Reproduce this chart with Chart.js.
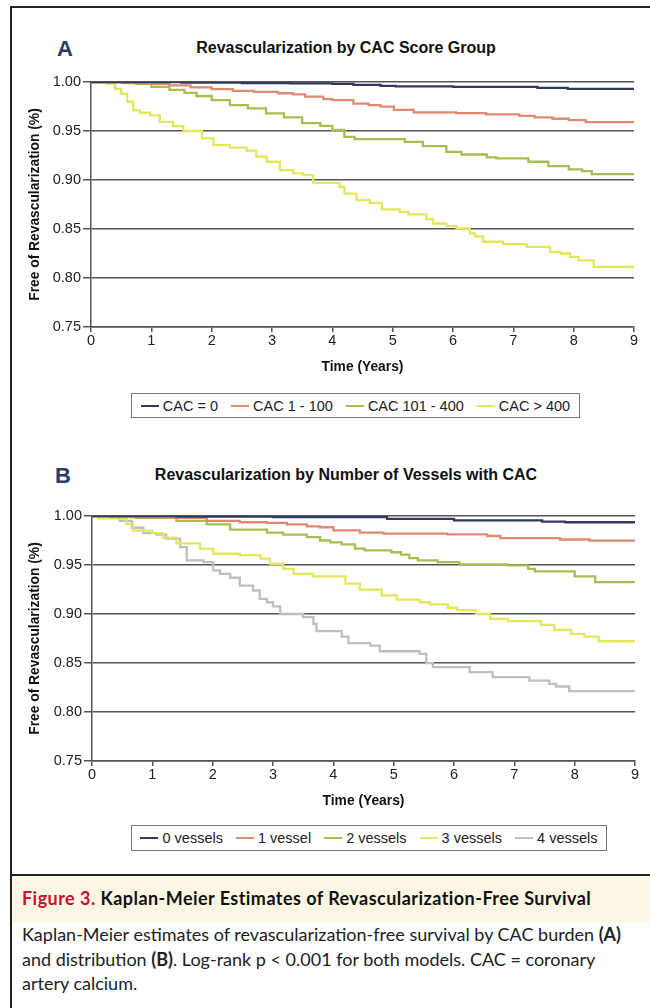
<!DOCTYPE html>
<html><head><meta charset="utf-8">
<script src="https://cdn.jsdelivr.net/npm/chart.js@4.4.1/dist/chart.umd.min.js"></script>
<style>
body{margin:0;width:650px;height:1008px;position:relative;overflow:hidden;background:#fff;font-family:'Liberation Sans',Arial,sans-serif;}
.abs{position:absolute;}
.letter{font-weight:bold;font-size:22px;line-height:1;color:#2f3b5e;}
.title{font-weight:bold;font-size:16px;line-height:1;color:#111;width:600px;left:46px;text-align:center;white-space:nowrap;}
.legend{border:1px solid #777;box-sizing:border-box;display:flex;align-items:center;justify-content:center;gap:13px;font-size:14.5px;color:#222;}
.item{display:flex;align-items:center;white-space:nowrap;}
.sw{width:18px;height:2px;margin-right:4px;display:inline-block;}
.cap{font-family:Lato,'Open Sans',sans-serif;white-space:nowrap;}
</style></head>
<body>
<div class="abs" style="left:10px;top:6px;width:640px;height:2px;background:#222"></div>
<div class="abs" style="left:10px;top:6px;width:2px;height:1002px;background:#222"></div>

<div class="abs letter" style="left:57px;top:38px">A</div>
<div class="abs title" style="top:40px">Revascularization by CAC Score Group</div>
<div class="abs" style="left:0;top:60px;width:650px;height:315px"><canvas id="cA" width="650" height="315"></canvas></div>
<div class="abs legend" id="legA" style="left:131px;top:393px;width:449px;height:25px"></div>

<div class="abs letter" style="left:55px;top:465px">B</div>
<div class="abs title" style="top:467px">Revascularization by Number of Vessels with CAC</div>
<div class="abs" style="left:0;top:494px;width:650px;height:315px"><canvas id="cB" width="650" height="315"></canvas></div>
<div class="abs legend" id="legB" style="left:131px;top:825px;width:476px;height:26px"></div>

<div class="abs" style="left:10px;top:874px;width:640px;height:2px;background:#222"></div>
<div class="abs" style="left:12px;top:876px;width:638px;height:46px;background:#fcf7e4"></div>
<div class="abs cap" style="left:22px;top:888px;font-size:18px;line-height:20px;letter-spacing:0.45px;font-weight:bold;color:#111"><span style="color:#c8102e">Figure 3.</span> Kaplan-Meier Estimates of Revascularization-Free Survival</div>
<div class="abs cap" style="left:22px;top:922px;font-size:18px;line-height:24.5px;color:#222">Kaplan-Meier estimates of revascularization-free survival by CAC burden <b>(A)</b><br>and distribution <b>(B)</b>. Log-rank p &lt; 0.001 for both models. CAC = coronary<br>artery calcium.</div>

<script>
// ---- Panel A: CAC score groups  [time (years), survival]
const namesA = ['CAC = 0', 'CAC 1 - 100', 'CAC 101 - 400', 'CAC > 400'];
const cac0 = [[0,1],[1.5,0.9995],[2.5,0.999],[3.3,0.9985],[4.0,0.998],[4.35,0.997],[4.8,0.996],[5.05,0.9955],[6.0,0.995],[7.4,0.994],[7.9,0.993],[9,0.993]];
const cac1to100 = [[0,1],[0.5,0.9995],[0.75,0.999],[1.0,0.998],[1.3,0.9965],[1.65,0.9945],[2.0,0.9928],[2.35,0.991],[2.7,0.990],[3.1,0.9885],[3.35,0.9874],[3.55,0.985],[3.85,0.9825],[4.0,0.9815],[4.35,0.978],[4.6,0.9765],[4.8,0.9748],[5.02,0.9715],[5.35,0.969],[6.05,0.9682],[6.55,0.967],[7.1,0.9655],[7.35,0.964],[7.65,0.9625],[7.92,0.961],[8.2,0.959],[9,0.959]];
const cac101to400 = [[0,1],[0.55,0.999],[0.75,0.998],[1.0,0.995],[1.3,0.992],[1.55,0.989],[1.75,0.9857],[2.0,0.9816],[2.3,0.9765],[2.6,0.973],[2.9,0.968],[3.2,0.964],[3.5,0.958],[3.8,0.9553],[4.0,0.951],[4.2,0.944],[4.37,0.9417],[5.2,0.939],[5.5,0.9346],[5.89,0.9288],[6.14,0.926],[6.56,0.923],[6.72,0.922],[7.25,0.9186],[7.58,0.9142],[7.92,0.9108],[8.14,0.909],[8.3,0.906],[9,0.906]];
const cacOver400 = [[0,1],[0.26,0.998],[0.4,0.993],[0.5,0.988],[0.6,0.98],[0.7,0.971],[0.81,0.9686],[0.98,0.966],[1.14,0.9594],[1.36,0.955],[1.53,0.950],[1.84,0.9425],[2.03,0.9356],[2.3,0.933],[2.58,0.930],[2.74,0.9237],[2.91,0.9186],[3.13,0.910],[3.35,0.9067],[3.52,0.905],[3.68,0.897],[4.12,0.893],[4.2,0.886],[4.4,0.8795],[4.62,0.8767],[4.82,0.870],[5.12,0.8675],[5.26,0.865],[5.56,0.860],[5.67,0.8556],[5.89,0.853],[6.06,0.8505],[6.28,0.8454],[6.36,0.8426],[6.5,0.837],[6.83,0.8345],[7.22,0.8317],[7.61,0.8266],[7.78,0.825],[7.94,0.8215],[8.08,0.818],[8.33,0.8113],[9,0.8113]];

// ---- Panel B: number of vessels with CAC
const namesB = ['0 vessels', '1 vessel', '2 vessels', '3 vessels', '4 vessels'];
const ves0 = [[0,1],[1.4,0.9995],[3.0,0.999],[4.89,0.997],[6.0,0.9956],[7.46,0.9943],[7.84,0.9936],[9,0.9936]];
const ves1 = [[0,1],[0.73,0.999],[1.3,0.998],[1.9,0.995],[2.45,0.9936],[2.9,0.993],[3.23,0.9915],[3.56,0.9895],[3.78,0.9885],[4.0,0.9854],[4.44,0.983],[4.83,0.982],[5.89,0.9813],[6.55,0.9796],[6.77,0.9775],[7.76,0.976],[8.25,0.9748],[9,0.9748]];
const ves2 = [[0,1],[0.3,0.999],[0.73,0.998],[1.4,0.995],[1.9,0.9915],[2.29,0.986],[2.9,0.983],[3.17,0.981],[3.56,0.9785],[3.78,0.975],[3.95,0.973],[4.14,0.971],[4.36,0.9667],[4.52,0.965],[4.96,0.963],[5.12,0.9605],[5.26,0.957],[5.4,0.9547],[5.73,0.953],[6.09,0.9506],[6.9,0.9496],[7.23,0.946],[7.34,0.9435],[8.0,0.9384],[8.34,0.9326],[9,0.9326]];
const ves3 = [[0,1],[0.1,0.9975],[0.57,0.992],[0.68,0.985],[1.0,0.9826],[1.18,0.978],[1.4,0.972],[1.79,0.9667],[2.01,0.9615],[2.45,0.960],[2.79,0.9565],[2.95,0.9513],[3.17,0.946],[3.34,0.941],[3.67,0.9384],[4.2,0.931],[4.44,0.9248],[4.8,0.919],[5.05,0.9146],[5.43,0.912],[5.6,0.9098],[5.9,0.9064],[6.05,0.904],[6.36,0.900],[6.6,0.8951],[6.89,0.8927],[7.44,0.889],[7.66,0.8839],[7.94,0.8798],[8.16,0.877],[8.4,0.8722],[9,0.8722]];
const ves4 = [[0,1],[0.46,0.995],[0.66,0.988],[0.85,0.9826],[1.07,0.981],[1.23,0.977],[1.46,0.9683],[1.57,0.9547],[1.85,0.953],[2.01,0.9445],[2.12,0.941],[2.29,0.937],[2.45,0.929],[2.67,0.924],[2.78,0.9155],[2.9,0.912],[3.0,0.9077],[3.12,0.900],[3.5,0.8968],[3.67,0.890],[3.72,0.8825],[4.14,0.877],[4.25,0.8702],[4.61,0.8678],[4.77,0.862],[5.43,0.8594],[5.54,0.8498],[5.65,0.8457],[6.26,0.8406],[6.64,0.8355],[7.25,0.832],[7.58,0.8287],[7.69,0.826],[7.91,0.8212],[9,0.8212]];

// ---- axis ticks
const yTicks = [0.75, 0.80, 0.85, 0.90, 0.95, 1.00];
const xTicks = [0,1,2,3,4,5,6,7,8,9];

const colors = ['#2e3a5f', '#e08a72', '#a6bf52', '#e4e65e', '#bfbfc3'];
const F = "'Liberation Sans', Arial, sans-serif";

function makeChart(id, names, series, yWidth, padRight){
  const ds = series.map((s,i)=>({
    label:names[i], data:s.map(p=>({x:p[0],y:p[1]})),
    borderColor:colors[i], backgroundColor:colors[i], borderWidth:2.3,
    pointRadius:0, stepped:true, fill:false, tension:0
  }));
  return new Chart(document.getElementById(id), {
    type:'line',
    data:{datasets:ds},
    options:{
      responsive:false, animation:false, devicePixelRatio:1,
      layout:{padding:{left:0,top:22,right:padRight,bottom:0}},
      plugins:{legend:{display:false}, tooltip:{enabled:false}},
      scales:{
        x:{type:'linear', min:xTicks[0], max:xTicks[xTicks.length-1],
           afterBuildTicks:s=>{s.ticks = xTicks.map(v=>({value:v}));},
           ticks:{padding:0, color:'#222', font:{family:F,size:14.5}, maxRotation:0, autoSkip:false},
           grid:{drawOnChartArea:false, drawTicks:true, tickLength:5, color:'#555', lineWidth:1.5},
           border:{display:true, color:'#555', width:1.5},
           title:{display:true, text:'Time (Years)', font:{family:F,size:13.8,weight:'bold'}, color:'#111', padding:{top:0,bottom:0}},
           afterFit:s=>{s.height=48;}},
        y:{type:'linear', min:yTicks[0], max:yTicks[yTicks.length-1],
           afterBuildTicks:s=>{s.ticks = yTicks.map(v=>({value:v}));},
           ticks:{callback:v=>Number(v).toFixed(2), padding:2, color:'#222', font:{family:F,size:14.5}, autoSkip:false},
           grid:{color:'#555', lineWidth:1.5, tickLength:8},
           border:{display:true, color:'#555', width:1.5},
           title:{display:true, text:'Free of Revascularization (%)', font:{family:F,size:13.8,weight:'bold'}, color:'#111', padding:{top:27,bottom:0}},
           afterFit:s=>{s.width=yWidth;}}
      }
    }
  });
}

function makeLegend(id, names){
  const el = document.getElementById(id);
  names.forEach((n,i)=>{
    const it = document.createElement('span'); it.className='item';
    const sw = document.createElement('span'); sw.className='sw'; sw.style.background=colors[i];
    it.appendChild(sw); it.appendChild(document.createTextNode(n));
    el.appendChild(it);
  });
}

makeChart('cA', namesA, [cac0, cac1to100, cac101to400, cacOver400], 91, 16);
makeChart('cB', namesB, [ves0, ves1, ves2, ves3, ves4], 92, 15);
makeLegend('legA', namesA);
makeLegend('legB', namesB);
</script>
</body></html>
